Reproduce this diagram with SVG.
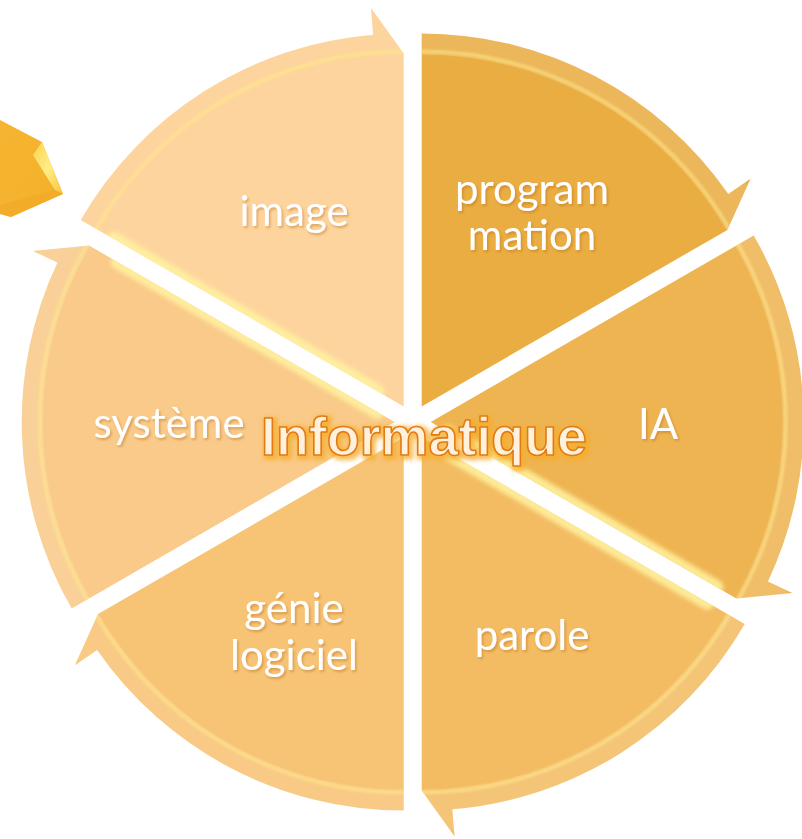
<svg xmlns="http://www.w3.org/2000/svg" xmlns:xlink="http://www.w3.org/1999/xlink" width="802" height="839" viewBox="0 0 802 839">
  <style>
    .label { font-family: Lato, "Open Sans", "Liberation Sans", sans-serif; font-size: 42px; fill: #ffffff; text-anchor: middle; filter: url(#textShadow); }
    .rim { fill: none; stroke: #ffffff; stroke-opacity: 0.13; stroke-width: 42; }
    .rimLine { fill: none; stroke: #ffe98a; stroke-opacity: 0.55; stroke-width: 4; filter: url(#soft); }
    .edgeGlow { stroke: #fff2a0; stroke-width: 14; stroke-linecap: round; stroke-opacity: 0.85; filter: url(#soft2); }
    .title { font-family: "Liberation Sans", Arial, sans-serif; font-weight: bold; font-size: 54px; fill: #fff1de; stroke: #e27a12; stroke-width: 1.6; stroke-linejoin: round; text-anchor: middle; filter: url(#titleGlow); }
  </style>
  <defs>
    <filter id="textShadow" x="-20%" y="-20%" width="140%" height="160%">
      <feDropShadow dx="1.5" dy="2" stdDeviation="1.2" flood-color="#b86a1a" flood-opacity="0.45"/>
    </filter>
    <filter id="soft" x="-10%" y="-10%" width="120%" height="120%">
      <feGaussianBlur stdDeviation="1.2"/>
    </filter>
    <filter id="soft2" x="-10%" y="-10%" width="120%" height="120%">
      <feGaussianBlur stdDeviation="2"/>
    </filter>
    <filter id="titleGlow" x="-10%" y="-30%" width="120%" height="160%">
      <feMorphology in="SourceAlpha" operator="dilate" radius="2" result="d"/>
      <feGaussianBlur in="d" stdDeviation="2" result="b"/>
      <feFlood flood-color="#f6ad2c" flood-opacity="0.8"/>
      <feComposite in2="b" operator="in" result="glow"/>
      <feOffset in="glow" dx="1.5" dy="2" result="g2"/>
      <feMerge><feMergeNode in="g2"/><feMergeNode in="SourceGraphic"/></feMerge>
    </filter>
    <linearGradient id="penta" x1="0" y1="0" x2="1" y2="1">
      <stop offset="0" stop-color="#f6b530"/>
      <stop offset="1" stop-color="#f3b02c"/>
    </linearGradient>
    <linearGradient id="facet" x1="0" y1="0" x2="1" y2="1">
      <stop offset="0" stop-color="#fbd24e"/>
      <stop offset="0.5" stop-color="#ffee86"/>
      <stop offset="1" stop-color="#f7c43a"/>
    </linearGradient>

    <!-- segment outlines: wedge with a half arrowhead on the clockwise end -->
    <path id="s-prog" d="M421.7,406.4 L421.7,33.4 A373,373 0 0 1 728.3,194.0 L750.5,178.7 L727.4,229.9 Z"/>
    <path id="s-ia" d="M430.7,422 L753.7,235.5 A373,373 0 0 1 767.9,581.4 L792.3,593.0 L736.4,598.5 Z"/>
    <path id="s-parole" d="M421.7,437.6 L744.7,624.1 A373,373 0 0 1 452.3,809.3 L454.5,836.3 L421.7,790.6 Z"/>
    <path id="s-genie" d="M403.7,437.6 L403.7,810.6 A373,373 0 0 1 97.1,650.0 L74.9,665.3 L98.0,614.1 Z"/>
    <path id="s-sys" d="M394.7,422 L71.7,608.5 A373,373 0 0 1 57.5,262.6 L33.1,251.0 L89.0,245.5 Z"/>
    <path id="s-image" d="M403.7,406.4 L80.7,219.9 A373,373 0 0 1 373.1,34.7 L370.9,7.7 L403.7,53.4 Z"/>

    <clipPath id="c-prog"><use xlink:href="#s-prog"/></clipPath>
    <clipPath id="c-ia"><use xlink:href="#s-ia"/></clipPath>
    <clipPath id="c-parole"><use xlink:href="#s-parole"/></clipPath>
    <clipPath id="c-genie"><use xlink:href="#s-genie"/></clipPath>
    <clipPath id="c-sys"><use xlink:href="#s-sys"/></clipPath>
    <clipPath id="c-image"><use xlink:href="#s-image"/></clipPath>
  </defs>

  <rect width="802" height="839" fill="#ffffff"/>

  <!-- partly visible pentagon arrow at the upper left -->
  <g id="corner-arrow">
    <polygon points="0,120 42,142 63,194 11,217 0,214" fill="url(#penta)"/>
    <polygon points="42,142 33,155 55,190 63,194" fill="url(#facet)"/>
    <polygon points="63,194 55,190 0,205 0,214 11,217" fill="#f0a826" opacity="0.6"/>
  </g>

  <g id="node-programmation">
    <use xlink:href="#s-prog" fill="#e9ad42"/>
    <g clip-path="url(#c-prog)">
      <circle class="rim" cx="421.7" cy="406.4" r="373"/>
      <circle class="rimLine" cx="421.7" cy="406.4" r="355"/>
    </g>
    <text class="label" x="532" y="204">program</text>
    <text class="label" x="532" y="250">mation</text>
  </g>

  <g id="node-ia">
    <use xlink:href="#s-ia" fill="#eeb452"/>
    <g clip-path="url(#c-ia)">
      <circle class="rim" cx="430.7" cy="422" r="373"/>
      <circle class="rimLine" cx="430.7" cy="422" r="355"/>
      <line class="edgeGlow" x1="448" y1="432" x2="716.5" y2="587"/>
    </g>
    <text class="label" x="658" y="439">IA</text>
  </g>

  <g id="node-parole">
    <use xlink:href="#s-parole" fill="#f3bc63"/>
    <g clip-path="url(#c-parole)">
      <circle class="rim" cx="421.7" cy="437.6" r="373"/>
      <circle class="rimLine" cx="421.7" cy="437.6" r="355" stroke-opacity="0.3"/>
      <line class="edgeGlow" x1="439" y1="447.6" x2="707.5" y2="602.6"/>
    </g>
    <text class="label" x="532" y="650">parole</text>
  </g>

  <g id="node-genie-logiciel">
    <use xlink:href="#s-genie" fill="#f7c375"/>
    <g clip-path="url(#c-genie)">
      <circle class="rim" cx="403.7" cy="437.6" r="373"/>
      <circle class="rimLine" cx="403.7" cy="437.6" r="355"/>
    </g>
    <text class="label" x="294" y="623">génie</text>
    <text class="label" x="294" y="670">logiciel</text>
  </g>

  <g id="node-systeme">
    <use xlink:href="#s-sys" fill="#f9ca89"/>
    <g clip-path="url(#c-sys)">
      <circle class="rim" cx="394.7" cy="422" r="373"/>
      <circle class="rimLine" cx="394.7" cy="422" r="355" stroke-opacity="0.35"/>
      <line class="edgeGlow" x1="377.4" y1="412" x2="117.6" y2="262"/>
    </g>
    <text class="label" x="169" y="438">système</text>
  </g>

  <g id="node-image">
    <use xlink:href="#s-image" fill="#fdd49d"/>
    <g clip-path="url(#c-image)">
      <circle class="rimLine" cx="403.7" cy="406.4" r="355" stroke-opacity="0.2"/>
      <line class="edgeGlow" x1="377.7" y1="391.4" x2="113.6" y2="238.9"/>
    </g>
    <text class="label" x="294" y="226">image</text>
  </g>

  <g id="node-center">
    <text class="title" x="424" y="455" textLength="326" lengthAdjust="spacingAndGlyphs">Informatique</text>
  </g>
</svg>
